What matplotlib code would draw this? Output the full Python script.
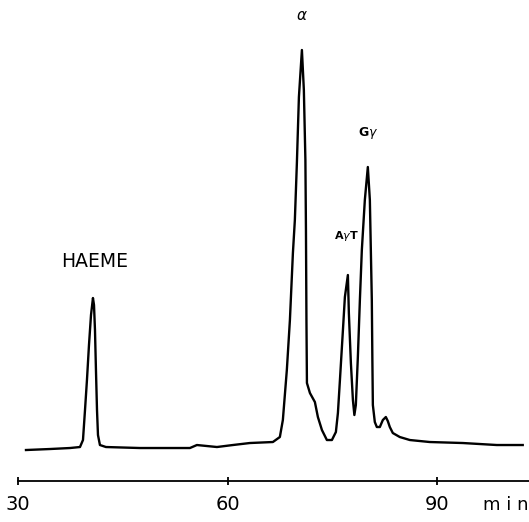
import matplotlib.pyplot as plt

# chromatogram trace, detector response (arbitrary units) vs elution time (min)
time_min = [31.10, 34.54, 37.41, 38.84, 39.27, 39.56, 39.84, 40.13, 40.42, 40.70,
            40.85, 40.99, 41.13, 41.28, 41.42, 41.70, 42.56, 47.44, 54.60, 55.60,
            58.47, 60.76, 63.19, 66.49, 67.49, 67.92, 68.49, 68.93, 69.36, 69.64,
            69.93, 70.22, 70.65, 70.93, 71.15, 71.23, 71.30, 71.37, 71.80, 72.51,
            72.94, 73.52, 74.23, 74.95, 75.52, 75.81, 76.10, 76.53, 76.81, 77.24,
            77.38, 77.67, 77.96, 78.17, 78.38, 78.67, 78.96, 79.24, 79.67, 80.10,
            80.39, 80.53, 80.67, 80.75, 80.82, 81.10, 81.39, 81.82, 82.25, 82.68,
            82.96, 83.25, 83.68, 84.68, 86.12, 88.98, 93.71, 98.58, 102.30]
signal = [31, 32, 33, 34, 41, 71, 101, 136, 166, 183,
          176, 151, 111, 71, 46, 36, 34, 33, 33, 36,
          34, 36, 38, 39, 44, 61, 111, 161, 228, 261,
          318, 384, 431, 391, 321, 251, 161, 98, 88, 79,
          64, 51, 41, 41, 49, 68, 101, 151, 184, 206,
          168, 118, 81, 66, 76, 124, 181, 231, 281, 314,
          281, 231, 181, 121, 76, 59, 54, 54, 61, 64,
          60, 54, 48, 44, 41, 39, 38, 36, 36]

# peak labels: text, time, height
peak_labels = ["HAEME", r"$\alpha$", r"A$\gamma$T", r"G$\gamma$"]
label_time = [40.9, 70.6, 77.1, 80.2]
label_pos = [220, 466, 245, 348]

xticks = [30, 60, 90]

fig = plt.figure(figsize=(5.29, 5.22), dpi=100)
ax = fig.add_axes([0.0346, 0.0785, 0.9654, 0.9215])
ax.plot(time_min, signal, color="black", lw=1.7, solid_joinstyle="round")

ax.set_xlim(30, 103.2)
ax.set_ylim(0, 481)
for s in ["top", "left", "right"]:
    ax.spines[s].set_visible(False)
ax.spines["bottom"].set_linewidth(1.3)
ax.set_yticks([])
ax.set_xticks(xticks)
ax.tick_params(axis="x", direction="inout", length=6, width=1.3, labelsize=14, pad=7)

# labels over the peaks
ax.text(label_time[0], label_pos[0], peak_labels[0], ha="center", va="center", fontsize=13.5)
ax.text(label_time[1], label_pos[1], peak_labels[1], ha="center", va="center", fontsize=11)
ax.text(label_time[2], label_pos[2], peak_labels[2], ha="center", va="center", fontsize=8,
        fontweight="bold")
ax.text(label_time[3], label_pos[3], peak_labels[3], ha="center", va="center", fontsize=9,
        fontweight="bold")

ax.text(0.955, -0.05, "m i n", transform=ax.transAxes, ha="center", va="center", fontsize=13)

fig.savefig("out.png", dpi=100)
